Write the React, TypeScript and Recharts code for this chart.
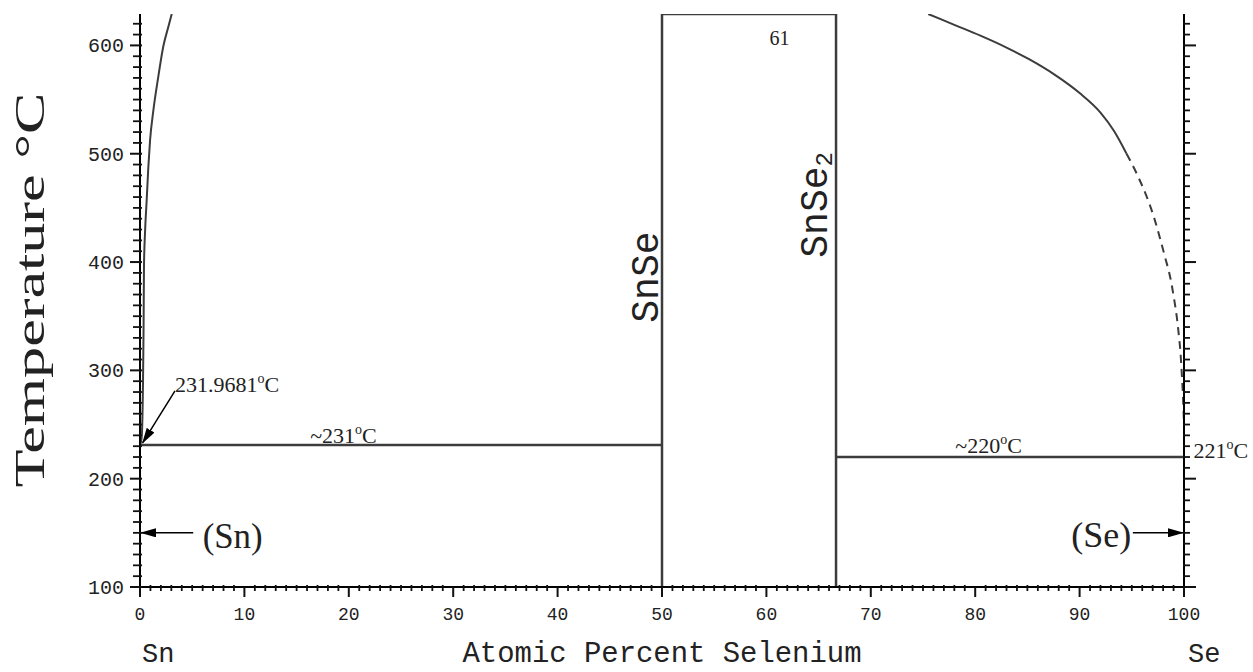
import React from 'react';
import { ComposedChart, Line, XAxis, YAxis, ReferenceDot } from 'recharts';

// axis ticks
const xLabels = [0, 10, 20, 30, 40, 50, 60, 70, 80, 90, 100];
const yLabels = [100, 200, 300, 400, 500, 600];
const xMinor = Array.from({ length: 101 }, (_, i) => i);
const yMinor = Array.from({ length: 53 }, (_, i) => 100 + i * 10);

// phase boundaries (at.% Se, °C)
const snLiquidus = [
  { x: 0.03, y: 232 }, { x: 0.16, y: 238 }, { x: 0.29, y: 291 }, { x: 0.34, y: 337 },
  { x: 0.38, y: 395 }, { x: 0.48, y: 427 }, { x: 0.64, y: 457 }, { x: 0.8, y: 488 },
  { x: 0.96, y: 512 }, { x: 1.28, y: 540 }, { x: 1.75, y: 571 }, { x: 2.23, y: 599 },
  { x: 2.71, y: 617 }, { x: 3.04, y: 629 },
];
const seLiquidus = [
  { x: 75.5, y: 629 }, { x: 78, y: 619 }, { x: 80.5, y: 609 }, { x: 83, y: 598 },
  { x: 85.2, y: 587 }, { x: 87.6, y: 573 }, { x: 90, y: 556 }, { x: 92, y: 538 },
  { x: 93.3, y: 521 }, { x: 94.5, y: 500 },
];
const seLiquidusDashed = [
  { x: 94.5, y: 500 }, { x: 95.5, y: 481 }, { x: 96.4, y: 461 }, { x: 97.1, y: 442 },
  { x: 97.7, y: 422 }, { x: 98.2, y: 404 }, { x: 98.7, y: 385 }, { x: 99.05, y: 366 },
  { x: 99.3, y: 350 }, { x: 99.5, y: 333 }, { x: 99.65, y: 318 }, { x: 99.8, y: 295 },
  { x: 99.92, y: 272 }, { x: 100, y: 250 },
];
const snEutectic = [{ x: 0, y: 231 }, { x: 50, y: 231 }];
const seEutectic = [{ x: 66.67, y: 220 }, { x: 100, y: 220 }];
const snSeLine = [{ x: 50, y: 100 }, { x: 50, y: 629 }];
const snSe2Line = [{ x: 66.67, y: 100 }, { x: 66.67, y: 629 }];
const topLine = [{ x: 50, y: 629 }, { x: 66.67, y: 629 }];
const snMeltArrow = [{ x: 3.35, y: 281 }, { x: 0.25, y: 233 }];
const snArrow = [{ x: 5.1, y: 150 }, { x: 0.1, y: 150 }];
const seArrow = [{ x: 95.1, y: 150 }, { x: 99.9, y: 150 }];

const INK = '#222';
const LINE = '#3c3c3c';

const XTick = (p: any) => {
  const { x, y, payload } = p;
  const v = payload.value;
  const major = xLabels.includes(v);
  return (
    <g>
      <line x1={x} x2={x} y1={y - (major ? 0 : 2)} y2={y + (major ? 10 : 4)} stroke="#111" strokeWidth={major ? 2 : 1.8} />
      {major && (
        <text x={x} y={y + 33} textAnchor="middle" fontFamily="Liberation Mono" fontSize={18} fill={INK}>
          {v}
        </text>
      )}
    </g>
  );
};

const YTickLeft = (p: any) => {
  const { x, y, payload } = p;
  const v = payload.value;
  const major = yLabels.includes(v);
  return (
    <g>
      <line x1={x + 2} x2={x - (major ? 10 : 7)} y1={y} y2={y} stroke="#111" strokeWidth={major ? 2 : 1.8} />
      {major && (
        <text x={x - 16} y={y + 7} textAnchor="end" fontFamily="Liberation Mono" fontSize={20} fill={INK}>
          {v}
        </text>
      )}
    </g>
  );
};

const YTickRight = (p: any) => {
  const { x, y, payload } = p;
  const major = yLabels.includes(payload.value);
  return <line x1={x - 1} x2={x + (major ? 12 : 6)} y1={y} y2={y} stroke="#111" strokeWidth={major ? 2 : 1.8} />;
};

// degree-style label: main text + raised small "o" + C
const degLabel = (main: string) => (p: any) => (
  <text x={p.cx} y={p.cy} fontFamily="Liberation Serif" fontSize={22} fill={INK}>
    {main}
    <tspan fontSize={14} dy={-9}>o</tspan>
    <tspan fontSize={22} dy={9}>C</tspan>
  </text>
);

const vertLabel = (main: string, sub: string | null, dy: number) => (p: any) => (
  <text
    x={p.cx}
    y={p.cy + dy}
    transform={`rotate(-90, ${p.cx}, ${p.cy})`}
    fontFamily="Liberation Mono"
    fontSize={38}
    fill={INK}
  >
    {main}
    {sub && <tspan fontSize={24} dy={5}>{sub}</tspan>}
  </text>
);

const phaseLabel = (t: string) => (p: any) => (
  <text x={p.cx} y={p.cy} fontFamily="Liberation Serif" fontSize={36} fill={INK} textLength={60} lengthAdjust="spacingAndGlyphs">
    {t}
  </text>
);

const lineProps = {
  dataKey: 'y',
  dot: false,
  activeDot: false,
  isAnimationActive: false,
  legendType: 'none' as const,
};

export default function App() {
  return (
    <div style={{ position: 'absolute', left: 0, top: 0, width: 1253, height: 672, background: '#fff' }}>
      <ComposedChart width={1253} height={672} margin={{ top: 14, right: 29, bottom: 25, left: 60 }}>
        <defs>
          <marker id="arrowHead" markerUnits="userSpaceOnUse" markerWidth={16} markerHeight={9} refX={15} refY={4.5} orient="auto">
            <path d="M0,0 L16,4.5 L0,9 z" fill="#000" />
          </marker>
        </defs>
        <XAxis
          dataKey="x"
          type="number"
          domain={[0, 100]}
          ticks={xMinor}
          interval={0}
          allowDataOverflow
          height={60}
          tickSize={0}
          tickMargin={0}
          tickLine={false}
          axisLine={{ stroke: '#000', strokeWidth: 2 }}
          tick={<XTick />}
        />
        <YAxis
          type="number"
          domain={[100, 629]}
          ticks={yMinor}
          interval={0}
          allowDataOverflow
          width={80}
          tickSize={0}
          tickMargin={0}
          tickLine={false}
          axisLine={{ stroke: '#000', strokeWidth: 2 }}
          tick={<YTickLeft />}
        />
        <YAxis
          yAxisId="r"
          orientation="right"
          type="number"
          domain={[100, 629]}
          ticks={yMinor}
          interval={0}
          allowDataOverflow
          width={40}
          tickSize={0}
          tickMargin={0}
          tickLine={false}
          axisLine={{ stroke: '#000', strokeWidth: 2 }}
          tick={<YTickRight />}
        />

        <Line {...lineProps} type="monotone" data={snLiquidus} stroke={LINE} strokeWidth={2} />
        <Line {...lineProps} type="linear" data={snEutectic} stroke={LINE} strokeWidth={2.5} />
        <Line {...lineProps} type="linear" data={snSeLine} stroke={LINE} strokeWidth={2.5} />
        <Line {...lineProps} type="linear" data={snSe2Line} stroke={LINE} strokeWidth={2.5} />
        <Line {...lineProps} type="linear" data={topLine} stroke={LINE} strokeWidth={2.5} />
        <Line {...lineProps} type="linear" yAxisId="r" data={seEutectic} stroke={LINE} strokeWidth={2.5} />
        <Line {...lineProps} type="monotone" yAxisId="r" data={seLiquidus} stroke={LINE} strokeWidth={2} />
        <Line {...lineProps} type="monotone" yAxisId="r" data={seLiquidusDashed} stroke={LINE} strokeWidth={2} strokeDasharray="8 6" />
        <Line {...lineProps} type="linear" data={snMeltArrow} stroke="#000" strokeWidth={1.5} markerEnd="url(#arrowHead)" />
        <Line {...lineProps} type="linear" data={snArrow} stroke="#000" strokeWidth={1.5} markerEnd="url(#arrowHead)" />
        <Line {...lineProps} type="linear" data={seArrow} stroke="#000" strokeWidth={1.5} markerEnd="url(#arrowHead)" />

        <ReferenceDot x={3.35} y={280} r={0} ifOverflow="visible" shape={degLabel('231.9681')} />
        <ReferenceDot x={16.3} y={233} r={0} ifOverflow="visible" shape={degLabel('~231')} />
        <ReferenceDot x={78.1} y={224} r={0} ifOverflow="visible" shape={degLabel('~220')} />
        <ReferenceDot x={100.9} y={219} r={0} ifOverflow="visible" shape={degLabel('221')} />
        <ReferenceDot
          x={60.3}
          y={600}
          r={0}
          ifOverflow="visible"
          shape={(p: any) => (
            <text x={p.cx} y={p.cy} fontFamily="Liberation Serif" fontSize={20} fill={INK}>
              61
            </text>
          )}
        />
        <ReferenceDot x={50} y={344} r={0} ifOverflow="visible" shape={vertLabel('SnSe', null, -4)} />
        <ReferenceDot x={66.67} y={404} r={0} ifOverflow="visible" shape={vertLabel('SnSe', '2', -9)} />
        <ReferenceDot x={6.0} y={136} r={0} ifOverflow="visible" shape={phaseLabel('(Sn)')} />
        <ReferenceDot x={89.2} y={137} r={0} ifOverflow="visible" shape={phaseLabel('(Se)')} />
      </ComposedChart>

      <svg width={1253} height={672} style={{ position: 'absolute', left: 0, top: 0, pointerEvents: 'none' }}>
        <text
          x={0}
          y={0}
          transform="translate(44, 290) rotate(-90)"
          textAnchor="middle"
          fontFamily="Liberation Serif"
          fontSize={42}
          fill={INK}
          textLength={395}
          lengthAdjust="spacingAndGlyphs"
        >
          Temperature °C
        </text>
        <text x={662} y={662} textAnchor="middle" fontFamily="Liberation Mono" fontSize={29} fill={INK} textLength={399} lengthAdjust="spacingAndGlyphs">
          Atomic Percent Selenium
        </text>
        <text x={142} y={662} fontFamily="Liberation Mono" fontSize={27} fill={INK}>
          Sn
        </text>
        <text x={1188} y={662} fontFamily="Liberation Mono" fontSize={27} fill={INK}>
          Se
        </text>
      </svg>
    </div>
  );
}
